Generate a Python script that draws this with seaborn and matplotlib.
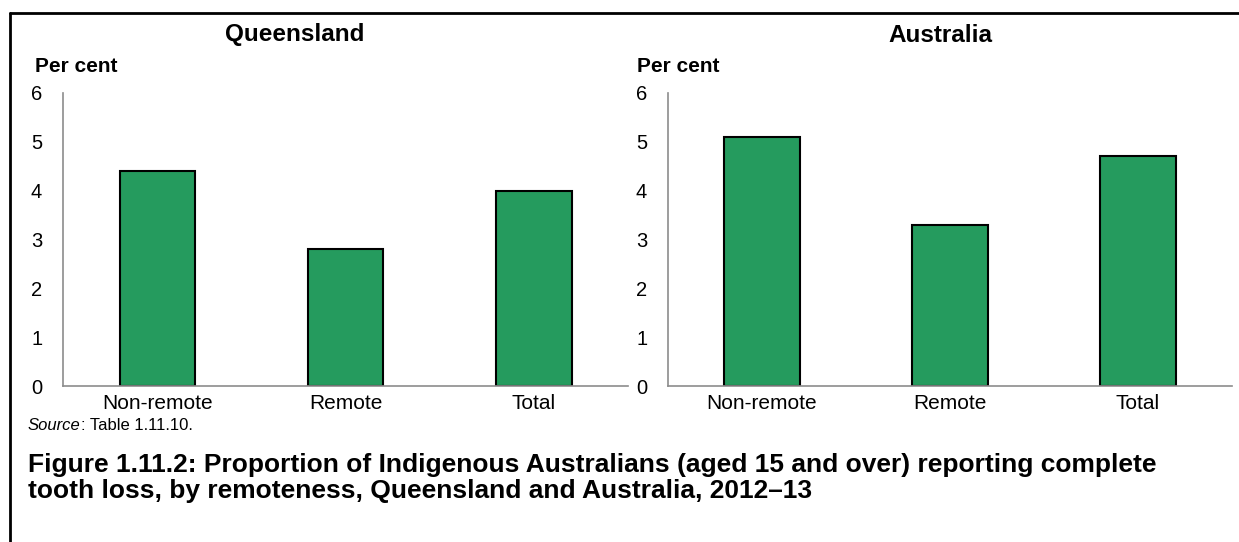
import matplotlib
matplotlib.use("Agg")
import matplotlib.pyplot as plt
from matplotlib.lines import Line2D
import seaborn as sns
import pandas as pd

# -- Data ----------------------------------------------------------------------
categories = ["Non-remote", "Remote", "Total"]
qld_values = [4.4, 2.8, 4.0]
aus_values = [5.1, 3.3, 4.7]
panel_titles = ["Queensland", "Australia"]
y_ticks = [0, 1, 2, 3, 4, 5, 6]

BAR_COLOR = "#259B5E"
AXIS_COLOR = "#8C8C8C"

sns.set_theme(style="white")
plt.rcParams["font.family"] = ["Liberation Sans", "DejaVu Sans"]
plt.rcParams["text.color"] = "black"
plt.rcParams["xtick.labelcolor"] = "black"
plt.rcParams["ytick.labelcolor"] = "black"

W, H = 1239, 542
fig = plt.figure(figsize=(W / 100, H / 100), dpi=100)

def px_axes(x0, x1, y_top, y_bot):
    return fig.add_axes([x0 / W, 1 - y_bot / H, (x1 - x0) / W, (y_bot - y_top) / H])

ax_q = px_axes(63, 628, 93, 386)
ax_a = px_axes(668, 1232, 93, 386)

for ax, vals in [(ax_q, qld_values), (ax_a, aus_values)]:
    df = pd.DataFrame({"cat": categories, "val": vals})
    sns.barplot(data=df, x="cat", y="val", ax=ax, color=BAR_COLOR,
                saturation=1, width=0.40, edgecolor="black", linewidth=1.5)
    ax.set_xlim(-0.5, 2.5)
    ax.set_ylim(0, 6)
    ax.set_yticks(y_ticks)
    ax.set_yticklabels([str(t) for t in y_ticks], fontsize=14.5)
    # boundary ticks on the category axis, labels at the centres
    ax.set_xticks([-0.5, 0.5, 1.5, 2.5])
    ax.set_xticklabels([])
    ax.set_xticks([0, 1, 2], minor=True)
    ax.set_xticklabels(categories, minor=True, fontsize=15)
    ax.tick_params(axis="x", which="major", length=5, width=1, color=AXIS_COLOR, direction="out")
    ax.tick_params(axis="x", which="minor", length=0, pad=6)
    ax.tick_params(axis="y", length=5, width=1, color=AXIS_COLOR, direction="out", pad=10)
    ax.set_xlabel(""); ax.set_ylabel("")
    for side in ["top", "right"]:
        ax.spines[side].set_visible(False)
    for side in ["left", "bottom"]:
        ax.spines[side].set_color(AXIS_COLOR)
        ax.spines[side].set_linewidth(1.2)
    ax.patch.set_alpha(0)

# -- Titles & labels -----------------------------------------------------------
fig.text(295 / W, 1 - 35 / H, panel_titles[0], ha="center", va="center",
         fontsize=17.5, fontweight="bold")
fig.text(940 / W, 1 - 35 / H, panel_titles[1], ha="center", va="center",
         fontsize=17.5, fontweight="bold")
fig.text(35 / W, 1 - 67 / H, "Per cent", ha="left", va="center", fontsize=15, fontweight="bold")
fig.text(637 / W, 1 - 67 / H, "Per cent", ha="left", va="center", fontsize=15, fontweight="bold")

src = fig.text(28 / W, 1 - 426 / H, "Source", ha="left", va="center", fontsize=12, style="italic")
fig.canvas.draw()
bb = src.get_window_extent()
fig.text(bb.x1 / W, 1 - 426 / H, ": Table 1.11.10.", ha="left", va="center", fontsize=12)

fig.text(28 / W, 1 - 465 / H,
         "Figure 1.11.2: Proportion of Indigenous Australians (aged 15 and over) reporting complete",
         ha="left", va="center", fontsize=19, fontweight="bold")
fig.text(28 / W, 1 - 491 / H,
         "tooth loss, by remoteness, Queensland and Australia, 2012\u201313",
         ha="left", va="center", fontsize=19, fontweight="bold")

# -- Frame (top + left rule) ---------------------------------------------------
fig.add_artist(Line2D([10 / W, 1], [1 - 13 / H, 1 - 13 / H], color="black", linewidth=2,
                      transform=fig.transFigure))
fig.add_artist(Line2D([10 / W, 10 / W], [1 - 13 / H, 0], color="black", linewidth=2,
                      transform=fig.transFigure))

fig.savefig("out.png", dpi=100)
